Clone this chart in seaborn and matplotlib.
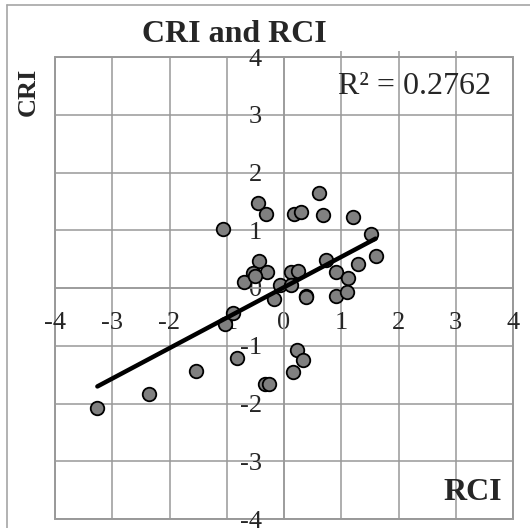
import matplotlib
matplotlib.use("Agg")
import matplotlib.pyplot as plt
from matplotlib.lines import Line2D
import seaborn as sns
import pandas as pd

rci = [-3.26, -2.35, -1.54, -0.82, -0.33, -0.27, 0.23, 0.34, 0.16, -1.03,
       -0.89, -1.07, -0.45, -0.31, 0.17, 0.29, 0.62, 0.68, 1.21, 1.52,
       1.60, 1.30, 0.73, 0.91, 1.11, 0.91, 1.10, 0.38, 0.38, -0.43,
       -0.55, -0.30, -0.70, -0.51, -0.07, -0.17, 0.13, 0.25, 0.13]
cri = [-2.08, -1.83, -1.44, -1.22, -1.67, -1.67, -1.07, -1.24, -1.46, -0.62,
       -0.43, 1.03, 1.48, 1.29, 1.29, 1.32, 1.64, 1.26, 1.23, 0.94,
       0.55, 0.42, 0.49, 0.28, 0.18, -0.13, -0.07, -0.13, -0.16, 0.46,
       0.26, 0.28, 0.11, 0.20, 0.06, -0.19, 0.28, 0.30, 0.06]
ticks = [-4, -3, -2, -1, 0, 1, 2, 3, 4]
top_ticks = [1, 2, 3]
title = "CRI and RCI"
xlabel = "RCI"
ylabel = "CRI"
r2_text = "R² = 0.2762"

df = pd.DataFrame({"RCI": rci, "CRI": cri})

sns.set_style("white")
plt.rcParams["font.family"] = ["Liberation Serif", "DejaVu Serif"]

W, H = 530, 528
fig = plt.figure(figsize=(W / 100, H / 100), dpi=100)
ax = fig.add_axes([55 / W, (H - 519) / H, 458 / W, 462 / H])

grid_c = "#999999"
sns.regplot(data=df, x="RCI", y="CRI", ax=ax, ci=None,
            scatter_kws=dict(s=95, color="#808080", edgecolor="black",
                             linewidths=1.3, alpha=1, zorder=3),
            line_kws=dict(color="black", lw=3.2, zorder=4))

ax.set_xlim(-4, 4)
ax.set_ylim(-4, 4)
ax.set_xticks(ticks)
ax.set_yticks(ticks)
ax.set_xticklabels([str(t) for t in ticks])
ax.set_yticklabels([str(t) for t in ticks])
ax.grid(True, color=grid_c, lw=1.1, zorder=0)
ax.set_axisbelow(True)
ax.set_xlabel("")
ax.set_ylabel("")

for s in ["top", "right"]:
    ax.spines[s].set_visible(False)
ax.spines["left"].set_position(("data", 0))
ax.spines["bottom"].set_position(("data", 0))
for s in ["left", "bottom"]:
    ax.spines[s].set_color(grid_c)
    ax.spines[s].set_linewidth(1.1)
ax.patch.set_edgecolor(grid_c)
ax.patch.set_linewidth(1.4)

ax.tick_params(axis="x", length=0, pad=17, labelsize=19)
ax.tick_params(axis="y", length=0, pad=16, labelsize=19)
for lab in ax.get_xticklabels() + ax.get_yticklabels():
    lab.set_clip_on(False)

sec = ax.secondary_xaxis("top")
sec.set_xticks(top_ticks)
sec.set_xticklabels([])
sec.tick_params(length=4, width=1.1, color=grid_c, direction="out")
sec.spines["top"].set_visible(False)

fig.text(414 / W, 1 - 86 / H, r2_text, ha="center", va="center", fontsize=23)

fig.text(234 / W, 1 - 34 / H, title, ha="center", va="center",
         fontsize=23, fontweight="bold")
fig.text(28 / W, 1 - 92 / H, ylabel, ha="center", va="center",
         fontsize=19, fontweight="bold", rotation=90)
fig.text(473 / W, 1 - 492 / H, xlabel, ha="center", va="center",
         fontsize=23, fontweight="bold")

fig.add_artist(Line2D([7.3 / W, 7.3 / W], [0, 1 - 5 / H], color="#a6a6a6", lw=1.2))
fig.add_artist(Line2D([7.3 / W, 1], [1 - 5 / H, 1 - 5 / H], color="#a6a6a6", lw=1.2))

fig.savefig("out.png", dpi=100, facecolor="white")
